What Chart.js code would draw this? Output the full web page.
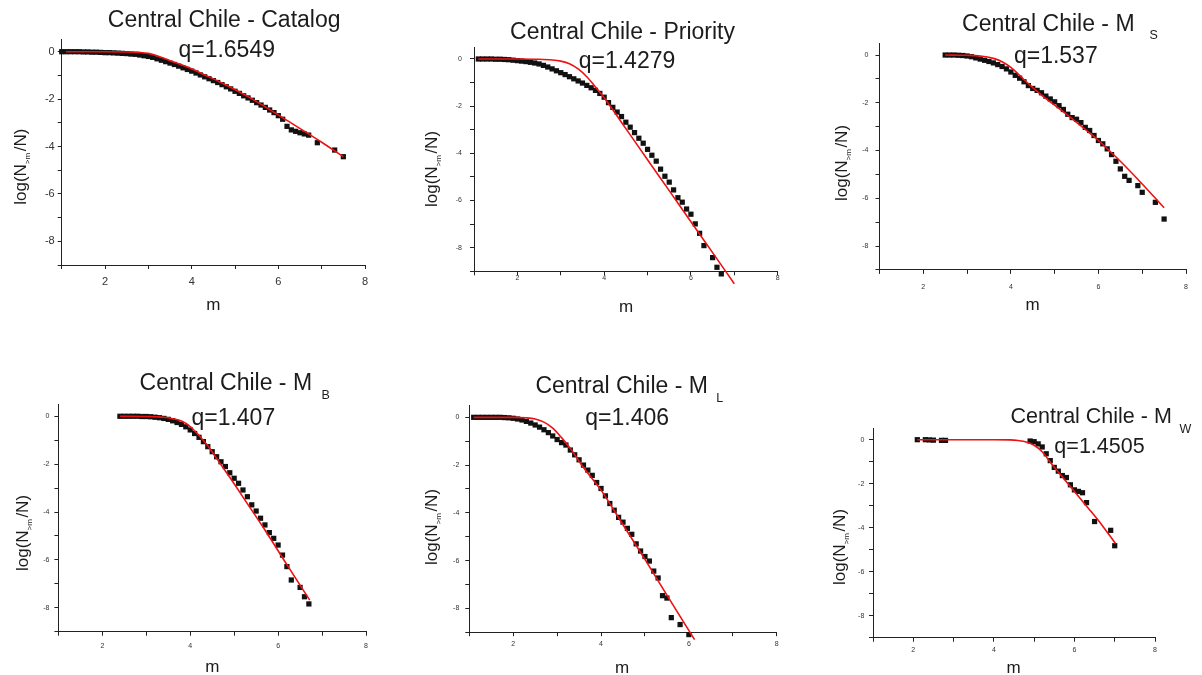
<!DOCTYPE html>
<html><head><meta charset="utf-8">
<script src="https://cdn.jsdelivr.net/npm/chart.js@4.4.0/dist/chart.umd.min.js"></script>
<style>
html,body{margin:0;padding:0;background:#fff;width:1202px;height:675px;overflow:hidden;}
canvas{position:absolute;}
</style></head><body>
<script>
// ---------- tick values and labels ----------
const xTicks = [1,2,3,4,5,6,7,8];
const xTickLabels = ['','2','','4','','6','','8'];
const yTicks = [-9,-8,-7,-6,-5,-4,-3,-2,-1,0];
const yTickLabels = ['','-8','','-6','','-4','','-2','','0'];

// ---------- Catalog ----------
const catalogM = [1.0,1.1,1.2,1.3,1.4,1.5,1.6,1.7,1.8,1.9,2.0,2.1,2.2,2.3,2.4,2.5,2.6,2.7,2.8,2.9,3.0,3.1,3.2,3.3,3.4,3.5,3.6,3.7,3.8,3.9,4.0,4.1,4.2,4.3,4.4,4.5,4.6,4.7,4.8,4.9,5.0,5.1,5.2,5.3,5.4,5.5,5.6,5.7,5.8,5.9,6.0,6.1,6.2,6.3,6.4,6.5,6.6,6.7,6.9,7.3,7.5];
const catalogV = [0,0,0,0,0,-0.01,-0.01,-0.02,-0.02,-0.03,-0.04,-0.04,-0.05,-0.06,-0.07,-0.08,-0.10,-0.11,-0.14,-0.17,-0.20,-0.24,-0.30,-0.36,-0.42,-0.48,-0.54,-0.61,-0.68,-0.75,-0.82,-0.90,-0.98,-1.06,-1.14,-1.22,-1.30,-1.39,-1.48,-1.57,-1.67,-1.76,-1.86,-1.95,-2.05,-2.15,-2.25,-2.35,-2.46,-2.57,-2.70,-2.85,-3.15,-3.30,-3.36,-3.42,-3.47,-3.52,-3.84,-4.15,-4.43];
const catalogFitM = [1.1,2.0,2.5,2.8,3.0,3.2,3.5,3.9,4.3,4.7,5.4,6.2,7.0,7.5];
const catalogFitV = [0,0,-0.01,-0.03,-0.07,-0.17,-0.38,-0.65,-0.98,-1.32,-2.0,-2.9,-3.82,-4.43];

// ---------- Priority ----------
const priorityM = [1.1,1.2,1.3,1.4,1.5,1.6,1.7,1.8,1.9,2.0,2.1,2.2,2.3,2.4,2.5,2.6,2.7,2.8,2.9,3.0,3.1,3.2,3.3,3.4,3.5,3.6,3.7,3.8,3.9,4.0,4.1,4.2,4.3,4.4,4.5,4.6,4.7,4.8,4.9,5.0,5.1,5.2,5.3,5.4,5.5,5.6,5.7,5.8,5.9,6.0,6.1,6.2,6.3,6.5,6.6,6.7,6.9,7.0];
const priorityV = [0,0,0,0,-0.01,-0.01,-0.02,-0.03,-0.05,-0.07,-0.09,-0.11,-0.14,-0.17,-0.21,-0.27,-0.34,-0.42,-0.50,-0.58,-0.66,-0.75,-0.84,-0.93,-1.02,-1.12,-1.22,-1.33,-1.46,-1.62,-1.85,-2.05,-2.25,-2.44,-2.68,-2.89,-3.12,-3.36,-3.57,-3.83,-4.08,-4.33,-4.67,-4.97,-5.22,-5.55,-5.88,-6.07,-6.36,-6.58,-6.99,-7.39,-7.91,-8.42,-8.83,-9.11,-9.50,-10.21];
const priorityFitM = [1.1,2.0,2.5,2.8,3.0,3.2,3.4,3.6,3.8,4.0,4.5,5.0,5.5,6.0,6.5,7.0];
const priorityFitV = [0,0,-0.01,-0.04,-0.09,-0.2,-0.42,-0.75,-1.19,-1.64,-2.95,-4.27,-5.58,-6.9,-8.21,-9.53];

// ---------- M_S ----------
const msM = [2.5,2.6,2.7,2.8,2.9,3.0,3.1,3.2,3.3,3.4,3.5,3.6,3.7,3.8,3.9,4.0,4.1,4.2,4.3,4.4,4.5,4.6,4.7,4.8,4.9,5.0,5.1,5.2,5.3,5.4,5.5,5.6,5.7,5.8,5.9,6.0,6.1,6.2,6.3,6.4,6.5,6.6,6.7,6.9,7.0,7.3,7.5];
const msV = [0,0,0,-0.01,-0.02,-0.04,-0.07,-0.12,-0.17,-0.22,-0.27,-0.33,-0.40,-0.48,-0.58,-0.71,-0.85,-0.97,-1.12,-1.28,-1.40,-1.48,-1.58,-1.72,-1.84,-1.96,-2.12,-2.28,-2.48,-2.62,-2.69,-2.83,-3.03,-3.16,-3.37,-3.58,-3.72,-3.93,-4.17,-4.45,-4.77,-5.08,-5.25,-5.47,-5.75,-6.17,-6.87];
const msFitM = [2.5,3.0,3.3,3.6,3.8,4.0,4.2,4.4,4.7,5.0,5.5,6.0,6.5,7.0,7.5];
const msFitV = [0,-0.01,-0.04,-0.14,-0.28,-0.52,-0.85,-1.2,-1.68,-2.1,-2.82,-3.58,-4.45,-5.4,-6.4];

// ---------- M_B ----------
const mbM = [2.4,2.5,2.6,2.7,2.8,2.9,3.0,3.1,3.2,3.3,3.4,3.5,3.6,3.7,3.8,3.9,4.0,4.1,4.2,4.3,4.4,4.5,4.6,4.7,4.8,4.9,5.0,5.1,5.2,5.3,5.4,5.5,5.6,5.7,5.8,5.9,6.0,6.1,6.2,6.3,6.5,6.6,6.7];
const mbV = [0,0,0,0,0,-0.01,-0.01,-0.02,-0.04,-0.06,-0.09,-0.13,-0.19,-0.26,-0.34,-0.44,-0.57,-0.72,-0.88,-1.06,-1.27,-1.48,-1.69,-1.90,-2.10,-2.36,-2.59,-2.80,-3.08,-3.36,-3.70,-3.96,-4.26,-4.54,-4.86,-5.10,-5.38,-5.80,-6.28,-6.84,-7.15,-7.54,-7.84];
const mbFitM = [2.4,3.0,3.4,3.6,3.8,4.0,4.2,4.4,4.6,4.9,5.3,5.7,6.2,6.72];
const mbFitV = [0,-0.01,-0.04,-0.1,-0.2,-0.43,-0.8,-1.23,-1.76,-2.55,-3.65,-4.75,-6.2,-7.68];

// ---------- M_L ----------
const mlM = [1.1,1.2,1.3,1.4,1.5,1.6,1.7,1.8,1.9,2.0,2.1,2.2,2.3,2.4,2.5,2.6,2.7,2.8,2.9,3.0,3.1,3.2,3.3,3.4,3.5,3.6,3.7,3.8,3.9,4.0,4.1,4.2,4.3,4.4,4.5,4.6,4.7,4.8,4.9,5.0,5.1,5.2,5.3,5.4,5.5,5.6,5.8,6.0,6.1];
const mlV = [0,0,0,0,0,0,0,-0.01,-0.02,-0.04,-0.07,-0.11,-0.17,-0.24,-0.32,-0.41,-0.52,-0.64,-0.78,-0.93,-1.06,-1.16,-1.37,-1.57,-1.78,-2.00,-2.21,-2.43,-2.73,-2.98,-3.29,-3.61,-3.89,-4.19,-4.39,-4.65,-4.90,-5.30,-5.60,-5.83,-6.02,-6.44,-6.73,-7.47,-7.57,-8.39,-8.68,-9.10,-9.77];
const mlFitM = [1.1,2.0,2.3,2.5,2.7,2.9,3.1,3.3,3.6,4.0,4.5,5.0,5.5,6.13];
const mlFitV = [0,0,-0.02,-0.07,-0.2,-0.45,-0.85,-1.3,-2.1,-3.05,-4.5,-5.95,-7.45,-9.31];

// ---------- M_W ----------
const mwM = [2.1,2.3,2.4,2.5,2.7,2.8,4.9,5.0,5.1,5.2,5.3,5.4,5.5,5.6,5.7,5.8,5.9,6.0,6.1,6.2,6.3,6.5,6.9,7.0];
const mwV = [0,0,-0.01,-0.02,-0.03,-0.03,-0.06,-0.09,-0.19,-0.33,-0.64,-0.95,-1.26,-1.43,-1.63,-1.72,-2.05,-2.28,-2.35,-2.41,-2.86,-3.72,-4.12,-4.82];
const mwFitM = [2.1,4.0,4.4,4.6,4.8,5.0,5.2,5.4,5.8,6.2,6.6,7.02];
const mwFitV = [0,0,-0.01,-0.04,-0.1,-0.25,-0.55,-1.02,-1.91,-2.8,-3.68,-4.72];

// ---------- text ----------
const titles = ['Central Chile - Catalog','Central Chile - Priority','Central Chile - M','Central Chile - M','Central Chile - M','Central Chile - M'];
const titleSubs = [null,null,'S','B','L','W'];
const qLabels = ['q=1.6549','q=1.4279','q=1.537','q=1.407','q=1.406','q=1.4505'];
const xTitle = 'm';

// ---------- layout (page pixel geometry) ----------
const layouts = [
 {cell:[0,0,400,337],     area:[61.7,39.85,365,265],   tX:224.2, tY:27.3, tS:23, subGap:0, subY:0, qX:226.7, qY:57.3, qS:23, yl:[21,166.7], xl:[213.3,310], tick:11, xPad:6, yPad:3},
 {cell:[400,0,800,337],   area:[474,47.2,777.7,271.3], tX:622.5, tY:39.3, tS:23, subGap:0, subY:0, qX:627, qY:68.3, qS:23, yl:[432,169], xl:[626,311.7], tick:7, xPad:-1, yPad:8},
 {cell:[800,0,1202,337],  area:[879.5,43.1,1186,269.9],tX:1048.3, tY:30.7, tS:23, subGap:15, subY:39, qX:1055.8, qY:63.3, qS:23, yl:[842,163], xl:[1032.7,310], tick:7, xPad:8.7, yPad:7},
 {cell:[0,337,400,675],   area:[58.4,404.3,366,631.7], tX:225.8, tY:390, tS:23, subGap:9.4, subY:399.3, qX:233.3, qY:425, qS:23, yl:[23,533], xl:[212.3,671.7], tick:7, xPad:6, yPad:5},
 {cell:[400,337,800,675], area:[469.3,405.4,776.7,632.2],tX:621.7, tY:392.7, tS:23, subGap:8.4, subY:401.7, qX:627.2, qY:425, qS:23, yl:[432,527], xl:[622,673], tick:7, xPad:3.7, yPad:6},
 {cell:[800,337,1202,675],area:[873,428.7,1155,637.7], tX:1091.2, tY:423.3, tS:21.5, subGap:7.6, subY:432.7, qX:1099.5, qY:453.3, qS:21.5, yl:[840,547], xl:[1013.7,673.3], tick:7, xPad:3.7, yPad:4.7}
];

const series = [
 [catalogM, catalogV, catalogFitM, catalogFitV],
 [priorityM, priorityV, priorityFitM, priorityFitV],
 [msM, msV, msFitM, msFitV],
 [mbM, mbV, mbFitM, mbFitV],
 [mlM, mlV, mlFitM, mlFitV],
 [mwM, mwV, mwFitM, mwFitV]
];

const FF = '"Liberation Sans", Arial, Helvetica, sans-serif';
const YW = 30, XH = 20;

function textPlugin(i) {
  const L = layouts[i];
  return {
    id: 'panelText' + i,
    afterDraw(chart) {
      const ctx = chart.ctx;
      const ox = L.cell[0], oy = L.cell[1];
      ctx.save();
      ctx.fillStyle = '#1c1c1c';
      // title
      ctx.font = L.tS + 'px ' + FF;
      ctx.textAlign = 'center';
      ctx.textBaseline = 'alphabetic';
      ctx.fillText(titles[i], L.tX - ox, L.tY - oy);
      if (titleSubs[i]) {
        const w = ctx.measureText(titles[i]).width;
        ctx.font = '12.5px ' + FF;
        ctx.textAlign = 'left';
        ctx.fillText(titleSubs[i], L.tX - ox + w / 2 + L.subGap, L.subY - oy);
      }
      // q label
      ctx.font = L.qS + 'px ' + FF;
      ctx.textAlign = 'center';
      ctx.fillText(qLabels[i], L.qX - ox, L.qY - oy);
      // x title
      ctx.font = '17px ' + FF;
      ctx.fillText(xTitle, L.xl[0] - ox, L.xl[1] - oy);
      // y title  log(N_{>m}/N)
      ctx.translate(L.yl[0] - ox, L.yl[1] - oy);
      ctx.rotate(-Math.PI / 2);
      ctx.textAlign = 'left';
      ctx.textBaseline = 'middle';
      const mainF = '17px ' + FF, subF = '8px ' + FF;
      ctx.font = mainF; const w1 = ctx.measureText('log(N').width; const w3 = ctx.measureText('/N)').width;
      ctx.font = subF; const w2 = ctx.measureText('>m').width + 1.5;
      const s = -(w1 + w2 + w3) / 2;
      ctx.font = mainF; ctx.fillText('log(N', s, 0);
      ctx.font = subF; ctx.fillText('>m', s + w1, 7);
      ctx.font = mainF; ctx.fillText('/N)', s + w1 + w2, 0);
      ctx.restore();
    }
  };
}

layouts.forEach((L, i) => {
  const [cx0, cy0, cx1, cy1] = L.cell;
  const cv = document.createElement('canvas');
  cv.width = cx1 - cx0; cv.height = cy1 - cy0;
  cv.style.left = cx0 + 'px'; cv.style.top = cy0 + 'px';
  cv.style.width = (cx1 - cx0) + 'px'; cv.style.height = (cy1 - cy0) + 'px';
  document.body.appendChild(cv);
  const [ax0, ay0, ax1, ay1] = L.area;
  const [sm, sv, fm, fv] = series[i];
  const pts = sm.map((m, k) => ({x: m, y: sv[k]}));
  const fit = fm.map((m, k) => ({x: m, y: fv[k]}));
  const gridOpt = {display: true, drawOnChartArea: false, drawTicks: true, tickLength: 4, color: '#222', tickColor: '#222', lineWidth: 1};
  new Chart(cv, {
    type: 'scatter',
    data: {
      datasets: [
        {label: 'fit', data: fit, showLine: true, pointRadius: 0, borderColor: '#ee1111', borderWidth: 1.6,
         cubicInterpolationMode: 'monotone', fill: false, clip: false, order: 0},
        {label: 'data', data: pts, showLine: false, pointStyle: 'rect', pointRadius: 3.7, pointHoverRadius: 3.7,
         backgroundColor: '#111', borderWidth: 0, clip: false, order: 1}
      ]
    },
    options: {
      responsive: false, animation: false, devicePixelRatio: 1,
      layout: {padding: {left: ax0 - cx0 - YW, top: ay0 - cy0, right: cx1 - ax1, bottom: cy1 - ay1 - XH}},
      plugins: {legend: {display: false}, tooltip: {enabled: false}, title: {display: false}},
      scales: {
        x: {type: 'linear', min: 1, max: 8,
            afterBuildTicks: (s) => { s.ticks = xTicks.map(v => ({value: v})); },
            afterFit: (s) => { s.height = XH; },
            ticks: {autoSkip: false, maxRotation: 0, padding: L.xPad, color: '#333', font: {family: FF, size: L.tick},
                    callback: (v, k) => xTickLabels[k]},
            grid: gridOpt, border: {display: true, color: '#222', width: 1}},
        y: {type: 'linear', min: -9, max: 0.5,
            afterBuildTicks: (s) => { s.ticks = yTicks.map(v => ({value: v})); },
            afterFit: (s) => { s.width = YW; },
            ticks: {autoSkip: false, padding: L.yPad, color: '#333', font: {family: FF, size: L.tick},
                    callback: (v, k) => yTickLabels[k]},
            grid: gridOpt, border: {display: true, color: '#222', width: 1}}
      }
    },
    plugins: [textPlugin(i)]
  });
});
</script>
</body></html>
